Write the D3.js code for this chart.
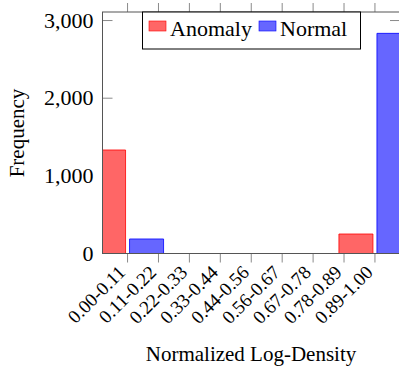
<!DOCTYPE html>
<html>
<head>
<meta charset="utf-8">
<script src="https://cdn.jsdelivr.net/npm/d3@7"></script>
</head>
<body style="margin:0">
<script>
// data
var bins = ["0.00-0.11", "0.11-0.22", "0.22-0.33", "0.33-0.44", "0.44-0.56",
            "0.56-0.67", "0.67-0.78", "0.78-0.89", "0.89-1.00"]
var anomaly = [1333, 0, 0, 0, 0, 0, 0, 0, 251]
var normal  = [187, 0, 0, 0, 0, 0, 0, 0, 2835]
var yTicks = [0, 1000, 2000, 3000]
var seriesNames = ["Anomaly", "Normal"]

var W = 399, H = 371
var plot = {left: 102.5, right: 400, top: 12, bottom: 253.5}
var fills = ["#ff6666", "#6666ff"]
var strokes = ["#ff0000", "#0000ff"]
var serif = "'Liberation Serif', 'Times New Roman', serif"

var svg = d3.select("body").append("svg")
    .attr("width", W).attr("height", H)
    .style("font-family", serif)

var x = d3.scalePoint()
    .domain(bins)
    .range([plot.left, plot.right])
    .padding(0.81)
var step = x.step()
var barW = step * 1.1
var barOff = [-(barW / 2 + 2), barW / 2 + 2]

var y = d3.scaleLinear()
    .domain([0, 3110])
    .range([plot.bottom, plot.top])

svg.append("clipPath").attr("id", "clip")
  .append("rect")
    .attr("x", plot.left).attr("y", plot.top)
    .attr("width", plot.right - plot.left).attr("height", plot.bottom - plot.top)

// ticks (drawn under the bars)
var tickCol = "#8a8a8a"
var tk = svg.append("g").attr("stroke", tickCol).attr("stroke-width", 1)
yTicks.forEach(function(v) {
  tk.append("line").attr("x1", plot.left).attr("x2", plot.left + 10)
    .attr("y1", y(v)).attr("y2", y(v))
  tk.append("line").attr("x1", plot.right - 10).attr("x2", plot.right)
    .attr("y1", y(v)).attr("y2", y(v))
})
bins.forEach(function(b) {
  tk.append("line").attr("x1", x(b)).attr("x2", x(b))
    .attr("y1", plot.bottom).attr("y2", plot.bottom + 9)
  tk.append("line").attr("x1", x(b)).attr("x2", x(b))
    .attr("y1", plot.top).attr("y2", plot.top - 9)
})

// bars
var barsG = svg.append("g").attr("clip-path", "url(#clip)")
;[anomaly, normal].forEach(function(vals, s) {
  barsG.selectAll(null)
    .data(vals)
    .enter()
    .append("path")
      .attr("d", function(d, i) {
        var cx = x(bins[i]) + barOff[s]
        var x0 = cx - barW / 2, x1 = cx + barW / 2
        return "M" + x0 + "," + y(0) + "V" + y(d) + "H" + x1 + "V" + y(0) + "Z"
      })
      .attr("fill", fills[s])
      .attr("stroke", strokes[s])
      .attr("stroke-width", 0.8)
})

// frame
svg.append("rect")
    .attr("x", plot.left).attr("y", plot.top)
    .attr("width", plot.right - plot.left).attr("height", plot.bottom - plot.top)
    .attr("fill", "none").attr("stroke", "#555").attr("stroke-width", 1)

// y tick labels
svg.append("g").selectAll("text")
  .data(yTicks)
  .enter()
  .append("text")
    .attr("x", plot.left - 9)
    .attr("y", function(d) { return y(d) + 7 })
    .attr("text-anchor", "end")
    .style("font-family", serif)
    .style("font-size", "22px")
    .text(d3.format(","))

// x tick labels
svg.append("g").selectAll("text")
  .data(bins)
  .enter()
  .append("text")
    .attr("transform", function(d) {
      return "translate(" + (x(d) - 1) + "," + (plot.bottom + 20) + ")rotate(-45)"
    })
    .attr("text-anchor", "end")
    .style("font-family", serif)
    .style("font-size", "19px")
    .text(function(d) { return d })

// axis titles
svg.append("text")
    .attr("x", 251).attr("y", 361)
    .attr("text-anchor", "middle")
    .style("font-family", serif)
    .style("font-size", "21px")
    .text("Normalized Log-Density")

svg.append("text")
    .attr("transform", "translate(24,133)rotate(-90)")
    .attr("text-anchor", "middle")
    .style("font-family", serif)
    .style("font-size", "21px")
    .text("Frequency")

// legend
var lg = svg.append("g")
lg.append("rect")
    .attr("x", 142.5).attr("y", 12)
    .attr("width", 218).attr("height", 37)
    .attr("fill", "#fff").attr("stroke", "#000").attr("stroke-width", 1)
var legX = [149, 259]
seriesNames.forEach(function(n, s) {
  lg.append("rect")
    .attr("x", legX[s]).attr("y", 21)
    .attr("width", 17).attr("height", 10)
    .attr("fill", fills[s]).attr("stroke", strokes[s]).attr("stroke-width", 0.6)
  lg.append("text")
    .attr("x", legX[s] + 21).attr("y", 36)
    .style("font-family", serif)
    .style("font-size", "22px")
    .text(n)
})
</script>
</body>
</html>
